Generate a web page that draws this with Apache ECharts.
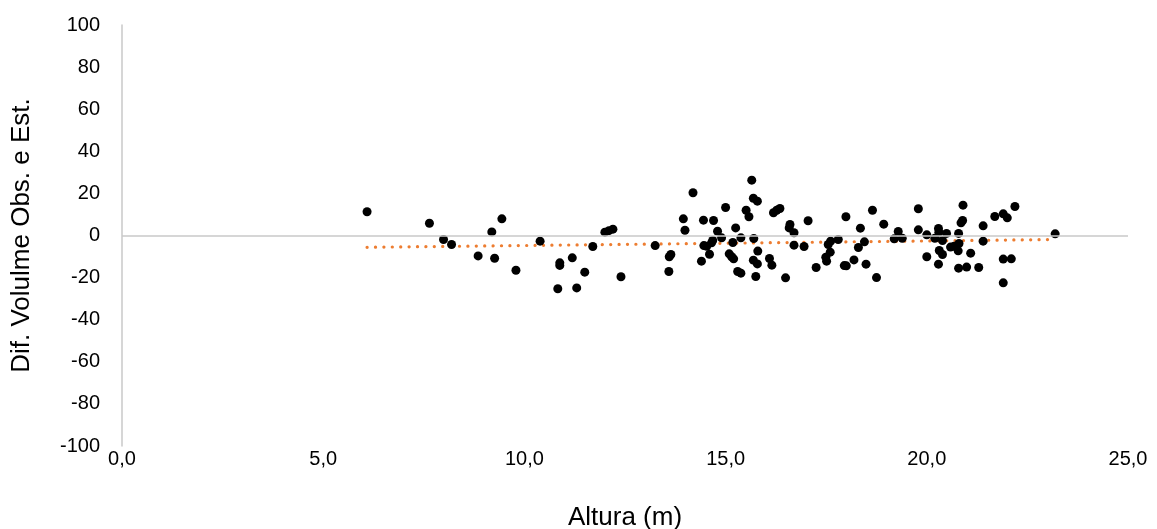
<!DOCTYPE html>
<html>
<head>
<meta charset="utf-8">
<script src="https://cdn.jsdelivr.net/npm/echarts@6/dist/echarts.min.js"></script>
<style>
  html, body { margin: 0; padding: 0; background: #ffffff; }
  #chart { width: 1157px; height: 529px; }
</style>
</head>
<body>
<div id="chart"></div>
<script>
// Altura (m) of each tree
var altura = [
  6.09, 7.64, 7.99, 8.19, 8.85, 9.26, 9.19, 9.44, 9.79, 10.39,
  10.88, 10.88, 10.83, 11.19, 11.50, 11.30, 11.70, 12.00, 12.10, 12.20,
  12.40, 13.25, 13.60, 13.64, 13.59, 14.19, 13.95, 13.99, 14.40, 14.45,
  14.46, 14.53, 14.60, 14.65, 14.68, 14.70, 14.80, 14.90, 15.00, 15.09,
  15.15, 15.20, 15.18, 15.25, 15.30, 15.38, 15.38, 15.51, 15.58, 15.65,
  15.69, 15.79, 15.70, 15.80, 15.69, 15.79, 15.75, 16.09, 16.15, 16.19,
  16.27, 16.35, 16.49, 16.60, 16.58, 16.70, 16.70, 16.95, 17.05, 17.25,
  17.49, 17.51, 17.60, 17.55, 17.61, 17.80, 17.95, 18.00, 17.99, 18.19,
  18.30, 18.35, 18.45, 18.49, 18.65, 18.75, 18.93, 19.19, 19.29, 19.39,
  19.79, 19.79, 20.00, 20.00, 20.20, 20.29, 20.30, 20.39, 20.31, 20.39,
  20.29, 20.49, 20.59, 20.68, 20.79, 20.80, 20.78, 20.79, 20.85, 20.89,
  20.90, 20.99, 21.09, 21.29, 21.40, 21.40, 21.69, 21.90, 22.00, 22.19,
  21.90, 22.10, 21.90, 23.19
];

// Difference between observed and estimated volume
var difVolume = [
  11.3, 5.8, -1.9, -4.3, -9.7, -10.8, 1.7, 7.9, -16.5, -2.7,
  -13.0, -14.2, -25.3, -10.6, -17.4, -24.9, -5.2, 1.6, 2.3, 3.0,
  -19.6, -4.8, -10.1, -9.0, -17.1, 20.3, 7.9, 2.5, -12.2, 7.3,
  -4.8, -5.1, -8.9, -3.5, -2.4, 7.1, 2.0, -1.1, 13.3, -8.7,
  -10.1, -11.1, -3.3, 3.6, -17.1, -17.9, -1.1, 12.0, 8.9, 26.3,
  17.7, 16.3, -1.4, -7.4, -11.7, -13.5, -19.5, -10.9, -14.1, 10.8,
  12.0, 12.8, -20.1, 5.2, 3.6, 1.3, -4.6, -5.2, 7.0, -15.2,
  -10.3, -12.2, -7.9, -4.3, -2.7, -1.9, -14.3, -14.4, 8.9, -11.6,
  -5.7, 3.5, -3.0, -13.6, 12.0, -20.0, 5.4, -1.6, 1.9, -1.3,
  12.7, 2.7, 0.3, -10.1, -1.3, 3.3, 1.6, -2.4, -7.1, -9.0,
  -13.6, 1.0, -5.5, -5.1, 1.0, -3.8, -7.3, -15.5, 6.0, 7.1,
  14.4, -15.0, -8.4, -15.2, 4.6, -2.7, 9.0, 10.3, 8.4, 13.8,
  -11.2, -11.1, -22.5, 0.8
];

// Linear trend line end points
var trendX = [6.09, 23.19];
var trendY = [-5.6, -1.9];

// Axis tick settings
var xTicks = { min: 0, max: 25, interval: 5 };
var yTicks = { min: -100, max: 100, interval: 20 };

var points = altura.map(function (x, i) { return [x, difVolume[i]]; });
var trend = trendX.map(function (x, i) { return [x, trendY[i]]; });

var axisGray = '#C8C8C8';
var textColor = '#000000';
var font = 'Liberation Sans, Arial, sans-serif';

var chart = echarts.init(document.getElementById('chart'), null, { renderer: 'canvas' });
chart.setOption({
  animation: false,
  backgroundColor: '#ffffff',
  grid: {
    left: 122, right: 29, top: 25, bottom: 83,
    containLabel: false,
    outerBoundsMode: 'none'
  },
  xAxis: {
    type: 'value',
    min: xTicks.min, max: xTicks.max, interval: xTicks.interval,
    name: 'Altura (m)',
    nameLocation: 'middle',
    nameGap: 59,
    nameTextStyle: { fontFamily: font, fontSize: 26, color: textColor },
    axisLine: { show: false, onZero: false },
    axisTick: { show: false },
    splitLine: { show: false },
    axisLabel: {
      margin: 3,
      fontFamily: font, fontSize: 20, color: textColor,
      formatter: function (v) { return v.toFixed(1).replace('.', ','); }
    }
  },
  yAxis: {
    type: 'value',
    min: yTicks.min, max: yTicks.max, interval: yTicks.interval,
    name: 'Dif. Volulme Obs. e Est.',
    nameLocation: 'middle',
    nameGap: 87,
    nameRotate: 90,
    nameTextStyle: { fontFamily: font, fontSize: 26, color: textColor },
    axisLine: { show: true, lineStyle: { color: axisGray, width: 1.5 } },
    axisTick: { show: false },
    splitLine: { show: false },
    axisLabel: { margin: 22, fontFamily: font, fontSize: 20, color: textColor }
  },
  series: [
    {
      type: 'scatter',
      data: points,
      symbol: 'circle',
      symbolSize: 9,
      itemStyle: { color: '#000000', opacity: 1 },
      z: 3,
      markLine: {
        silent: true,
        symbol: 'none',
        label: { show: false },
        lineStyle: { color: axisGray, width: 1.5, type: 'solid' },
        data: [{ yAxis: 0 }]
      }
    },
    {
      type: 'line',
      data: trend,
      symbol: 'none',
      z: 2,
      lineStyle: { color: '#ED7D31', width: 3.2, type: [0.1, 8.3], cap: 'round' }
    }
  ]
});
</script>
</body>
</html>
